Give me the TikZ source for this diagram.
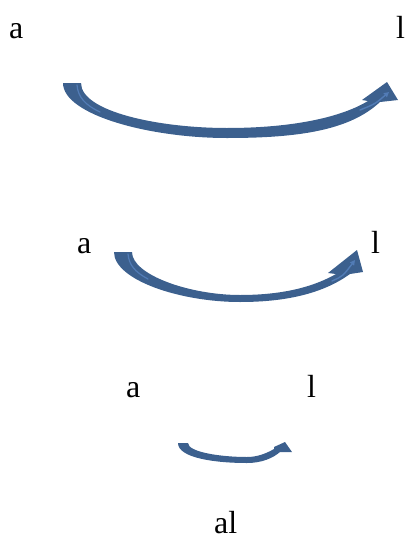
\documentclass[tikz,border=0pt]{standalone}
\usepackage{fontspec}
\setmainfont{Liberation Serif}
\usetikzlibrary{arrows.meta}
\definecolor{arrowblue}{RGB}{60,96,142}
\definecolor{arrowlight}{RGB}{82,124,182}
\tikzset{
  arrowbody/.style={fill=arrowblue},
  highlight/.style={draw=arrowlight, line width=1.4pt, line cap=round},
  lbl/.style={anchor=base west, inner sep=0pt, font=\fontsize{32}{32}\selectfont}
}
\begin{document}
\begin{tikzpicture}[x=1pt,y=1pt]
\useasboundingbox (0,0) rectangle (416,-541);
% labels
\node[lbl] (a1) at (9,-38) {a};
\node[lbl] (l1) at (396,-38) {l};
\node[lbl] (a2) at (77,-253) {a};
\node[lbl] (l2) at (371,-253) {l};
\node[lbl] (a3) at (126,-397) {a};
\node[lbl] (l3) at (307,-397) {l};
\node[lbl] (al) at (214,-533) {al};
% arrow 1
\fill[arrowbody] (63,-83) .. controls (63,-115) and (150,-138) .. (227,-138)
  .. controls (300,-138) and (350,-130) .. (380,-102)
  -- (398,-100) -- (387,-82) -- (362,-100) -- (368,-101)
  .. controls (340,-118) and (290,-128) .. (227,-128)
  .. controls (160,-128) and (81,-112) .. (81,-83) -- cycle;
\draw[highlight, -{Triangle[length=5pt,width=5pt]}] (360,-110) .. controls (375,-104) .. (389,-92);
\draw[highlight, line width=1.2pt] (77,-85) .. controls (78,-97) and (85,-105) .. (100,-112);
% arrow 2
\fill[arrowbody] (114,-252) .. controls (114,-280) and (180,-302) .. (240,-302)
  .. controls (290,-302) and (325,-292) .. (350,-274)
  -- (363,-272) -- (357,-250) -- (328,-273) -- (336,-274)
  .. controls (315,-286) and (285,-295) .. (240,-295)
  .. controls (190,-295) and (132,-275) .. (132,-252) -- cycle;
\draw[highlight, -{Triangle[length=5pt,width=5pt]}] (332,-281) .. controls (343,-276) .. (355,-260);
\draw[highlight, line width=1.2pt] (128,-254) .. controls (129,-265) and (135,-272) .. (148,-279);
% arrow 3
\fill[arrowbody] (178,-443) .. controls (178,-458) and (215,-463) .. (247,-463)
  .. controls (262,-463) and (273,-458) .. (280,-452)
  -- (292,-452) -- (285,-442) -- (274,-447) -- (274,-449)
  .. controls (267,-453) and (258,-457) .. (247,-457)
  .. controls (220,-457) and (188,-452) .. (188,-443) -- cycle;
\end{tikzpicture}
\end{document}
